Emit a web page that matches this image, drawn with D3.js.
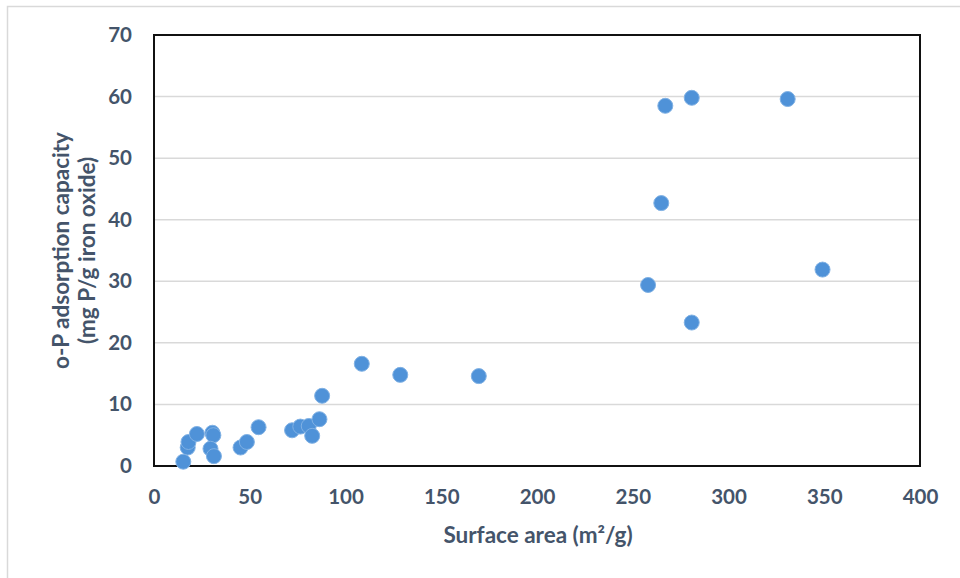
<!DOCTYPE html>
<html>
<head>
<meta charset="utf-8">
<script src="https://cdn.jsdelivr.net/npm/d3@7"></script>
<style>
  html, body { margin: 0; padding: 0; background: #fff; }
  svg { display: block; }
</style>
</head>
<body>
<svg id="chart" width="960" height="578"></svg>
<script>
// Data
const surfaceArea = [15.3, 17.6, 18.0, 22.4, 30.5, 31.0, 29.5, 31.3, 45.2, 48.5, 54.6, 72.1, 76.4, 80.8, 82.6, 86.4, 87.8, 108.5, 128.6, 169.6, 258.0, 264.9, 267.0, 280.8, 280.8, 330.9, 349.1];
const adsorption  = [0.7, 3.0, 3.9, 5.2, 5.4, 5.0, 2.8, 1.6, 3.0, 3.9, 6.3, 5.8, 6.4, 6.5, 4.9, 7.6, 11.4, 16.6, 14.8, 14.6, 29.4, 42.7, 58.5, 59.8, 23.3, 59.6, 31.9];
const xTicks = [0, 50, 100, 150, 200, 250, 300, 350, 400];
const yTicks = [0, 10, 20, 30, 40, 50, 60, 70];
const xTitle = "Surface area (m²/g)";
const yTitle1 = "o-P adsorption capacity";
const yTitle2 = "(mg P/g iron oxide)";

const svg = d3.select("#chart");
const m = { left: 154, top: 35, right: 920, bottom: 466 };
const textColor = "#44546a";
const font = "Lato, 'Open Sans', sans-serif";

// outer frame
svg.append("rect").attr("x", 7.5).attr("y", 6.5).attr("width", 970).attr("height", 600)
  .attr("fill", "none").attr("stroke", "#d9d9d9").attr("stroke-width", 1.5);

const x = d3.scaleLinear().domain([0, 400]).range([m.left, m.right]);
const y = d3.scaleLinear().domain([0, 70]).range([m.bottom, m.top]);

// gridlines
svg.append("g").selectAll("line").data(yTicks.filter(d => d > 0 && d < 70)).join("line")
  .attr("x1", m.left).attr("x2", m.right)
  .attr("y1", d => y(d)).attr("y2", d => y(d))
  .attr("stroke", "#d9d9d9").attr("stroke-width", 1.5);

// axes (labels only)
const xAxis = svg.append("g").attr("transform", `translate(0,${m.bottom})`)
  .call(d3.axisBottom(x).tickValues(xTicks).tickSize(0).tickPadding(23));
xAxis.select(".domain").remove();
xAxis.selectAll("text").attr("fill", textColor).attr("font-size", 20.5).attr("font-weight", "bold").attr("font-family", font);

const yAxis = svg.append("g").attr("transform", `translate(${m.left},0)`)
  .call(d3.axisLeft(y).tickValues(yTicks).tickSize(0).tickPadding(22));
yAxis.select(".domain").remove();
yAxis.selectAll("text").attr("fill", textColor).attr("font-size", 20.5).attr("font-weight", "bold").attr("font-family", font);

// plot box
svg.append("rect").attr("x", m.left).attr("y", m.top)
  .attr("width", m.right - m.left).attr("height", m.bottom - m.top)
  .attr("fill", "none").attr("stroke", "#111").attr("stroke-width", 2);

// points
svg.append("g").selectAll("circle").data(surfaceArea.map((d, i) => [d, adsorption[i]])).join("circle")
  .attr("cx", d => x(d[0])).attr("cy", d => y(d[1])).attr("r", 7.5)
  .attr("fill", "#4f92d8").attr("stroke", "#80b1e4").attr("stroke-width", 1);

// axis titles
svg.append("text").attr("x", (m.left + m.right) / 2 + 1).attr("y", 543)
  .attr("text-anchor", "middle").attr("fill", textColor).attr("font-size", 22.5)
  .attr("font-weight", "bold").attr("font-family", font).text(xTitle);

const yt = svg.append("text").attr("transform", `translate(69,${(m.top + m.bottom) / 2}) rotate(-90)`)
  .attr("text-anchor", "middle").attr("fill", textColor).attr("font-size", 22.5)
  .attr("font-weight", "bold").attr("font-family", font);
yt.append("tspan").attr("x", 0).attr("dy", 0).text(yTitle1);
yt.append("tspan").attr("x", 0).attr("dy", 26).text(yTitle2);
</script>
</body>
</html>
